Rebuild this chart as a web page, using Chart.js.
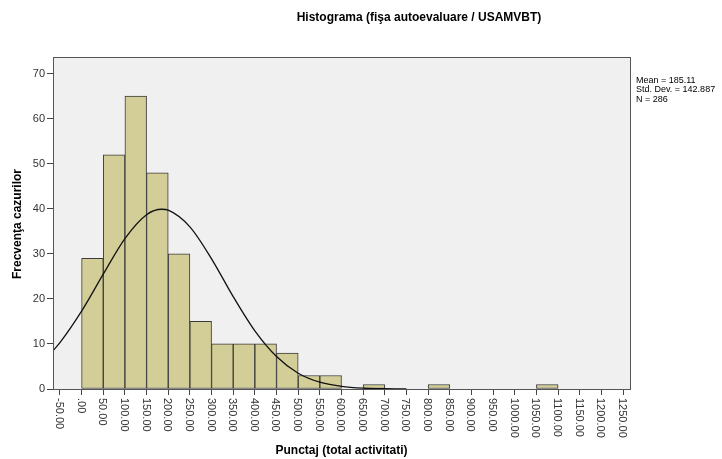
<!DOCTYPE html>
<html>
<head>
<meta charset="utf-8">
<script src="https://cdn.jsdelivr.net/npm/chart.js@4/dist/chart.umd.min.js"></script>
<style>
  body { margin: 0; background: #fff; }
  canvas { display: block; }
</style>
</head>
<body>
<canvas id="myChart" width="722" height="459"></canvas>
<script>
const ctx = document.getElementById('myChart');

// histogram bins (bin centres) and counts
var binCentres = [25, 75, 125, 175, 225, 275, 325, 375, 425, 475, 525, 575, 625, 675, 725, 775, 825, 875, 925, 975, 1025, 1075, 1125, 1175, 1225];
var counts     = [29, 52, 65, 48, 30, 15, 10, 10, 10,  8,  3,  3,  0,  1,  0,  0,  1,  0,  0,  0,  0,  1,  0,  0,  0];

// normal curve, values
var curveX = [-66, -50, 0, 50, 100, 150, 185, 200, 250, 300, 350, 400, 450, 500, 550, 600, 650, 700, 750];
var curveY = [8.5, 10.3, 17.3, 25.5, 33.4, 38.7, 39.9, 39.7, 36.0, 28.9, 20.5, 12.9, 7.2, 3.5, 1.5, 0.6, 0.2, 0.05, 0];

var statsLines = ['Mean = 185.11', 'Std. Dev. = 142.887', 'N = 286'];
var chartTitle = 'Histograma (fişa autoevaluare / USAMVBT)';
var xTitle = 'Punctaj (total activitati)';
var yTitle = 'Frecvenţa cazurilor';

var barData = binCentres.map(function(c, i){ return {x: c, y: counts[i]}; });
var lineData = curveX.map(function(c, i){ return {x: c, y: curveY[i]}; });

var decor = {
    id: 'decor',
    beforeDraw: function(chart){
        var a = chart.chartArea, c = chart.ctx;
        c.save();
        c.fillStyle = '#f0f0f0';
        c.fillRect(a.left, a.top, a.right - a.left, a.bottom - a.top);
        c.restore();
    },
    afterDraw: function(chart){
        var a = chart.chartArea, c = chart.ctx;
        c.save();
        c.strokeStyle = '#555';
        c.lineWidth = 1;
        c.strokeRect(Math.round(a.left) + 0.5, Math.round(a.top) + 0.5, Math.round(a.right - a.left), Math.round(a.bottom - a.top));

        // x tick labels, rotated clockwise
        var xs = chart.scales.x;
        c.fillStyle = '#333';
        c.font = '11px "Liberation Sans", Arial, sans-serif';
        c.textAlign = 'left';
        c.textBaseline = 'middle';
        xs.ticks.forEach(function(t){
            var px = xs.getPixelForValue(t.value);
            var lbl = t.value === 0 ? '.00' : t.value.toFixed(2);
            c.save();
            c.translate(px - 1, a.bottom + 9);
            c.rotate(Math.PI / 2);
            c.fillText(lbl, 0, 0);
            c.restore();
        });

        // titles
        c.fillStyle = '#000';
        c.font = 'bold 12px "Liberation Sans", Arial, sans-serif';
        c.textAlign = 'center';
        c.fillText(chartTitle, 419, 18);
        c.fillText(xTitle, (a.left + a.right) / 2, 451);
        c.save();
        c.translate(18, 224);
        c.rotate(-Math.PI / 2);
        c.fillText(yTitle, 0, 0);
        c.restore();

        // stats box
        c.font = '9px "Liberation Sans", Arial, sans-serif';
        c.textAlign = 'left';
        c.fillStyle = '#000';
        statsLines.forEach(function(s, i){
            c.fillText(s, 636, 80.5 + i * 9.5);
        });
        c.restore();
    }
};

new Chart(ctx, {
    data: {
        datasets: [{
            type: 'line',
            data: lineData,
            borderColor: '#111',
            borderWidth: 1.3,
            pointRadius: 0,
            cubicInterpolationMode: 'monotone',
            order: 0
        }, {
            type: 'bar',
            data: barData,
            backgroundColor: '#d3ce97',
            borderColor: '#3a3a3a',
            borderWidth: 1,
            borderSkipped: false,
            barPercentage: 1,
            categoryPercentage: 1,
            order: 1
        }]
    },
    options: {
        responsive: false,
        animation: false,
        devicePixelRatio: 1,
        layout: { padding: { top: 57, right: 92, left: 0, bottom: 0 } },
        plugins: { legend: { display: false }, tooltip: { enabled: false } },
        scales: {
            x: {
                type: 'linear',
                offset: false,
                min: -66,
                max: 1266,
                grid: { drawOnChartArea: false, drawTicks: true, tickLength: 6, color: '#444', offset: false },
                border: { display: true, color: '#555' },
                ticks: { stepSize: 50, includeBounds: false, display: false },
                afterFit: function(s){ s.height = 70; }
            },
            y: {
                min: 0,
                max: 73.7,
                grid: { drawOnChartArea: false, drawTicks: true, tickLength: 6, color: '#444' },
                border: { display: true, color: '#555' },
                ticks: {
                    stepSize: 10,
                    includeBounds: false,
                    padding: 2,
                    color: '#333',
                    font: { family: '"Liberation Sans", Arial, sans-serif', size: 11 }
                },
                afterFit: function(s){ s.width = 53; }
            }
        }
    },
    plugins: [decor]
});
</script>
</body>
</html>
